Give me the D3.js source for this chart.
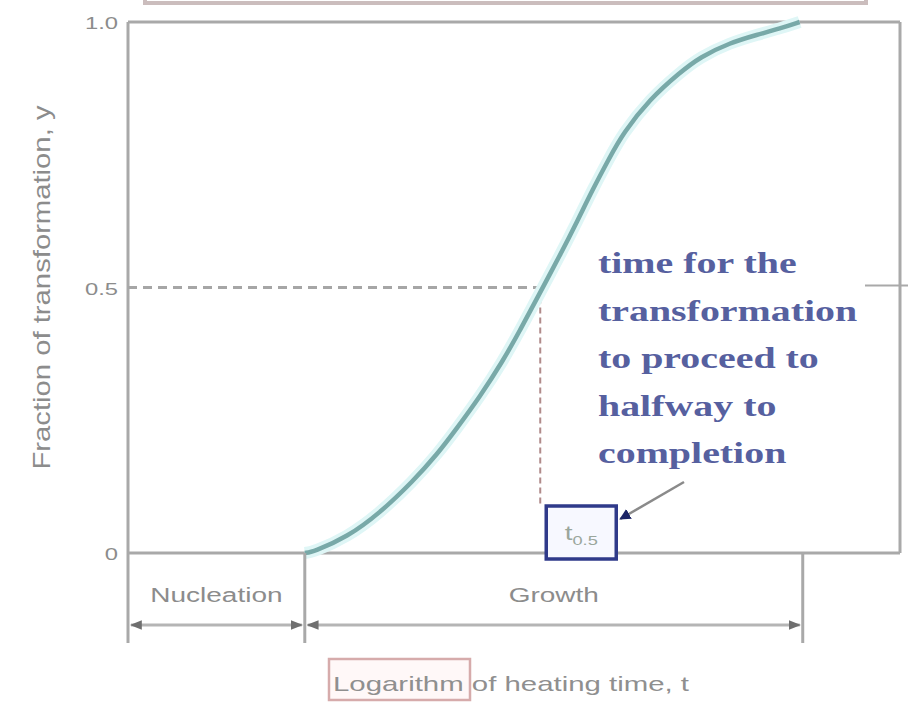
<!DOCTYPE html>
<html>
<head>
<meta charset="utf-8">
<script src="https://cdn.jsdelivr.net/npm/d3@7"></script>
<style>
  body { margin: 0; background: #ffffff; }
  svg { display: block; }
</style>
</head>
<body>
<div id="chart"></div>
<script>
/* Curve: logarithm of time (0-100 across the frame) and fraction transformed */
var logTime  = [22.9, 24.0, 28.4, 32.6, 36.9, 40.0, 42.6, 45.6, 48.5, 50.8, 53.0, 56.0, 58.2, 60.2, 62.4, 64.1, 67.6, 71.5, 74.1, 78.0, 81.5, 84.5, 87.0];
var fraction = [0, 0.002, 0.03, 0.075, 0.135, 0.185, 0.235, 0.295, 0.36, 0.42, 0.48, 0.562, 0.625, 0.685, 0.745, 0.79, 0.855, 0.905, 0.934, 0.961, 0.976, 0.988, 1.0];

/* Y ticks */
var yTicks      = [0, 0.5, 1.0];
var yTickLabels = ["0", "0.5", "1.0"];

/* Stages along the time axis */
var stageBounds = [0, 22.9, 87.4];
var stageNames  = ["Nucleation", "Growth"];

/* Half-way point */
var halfFraction = 0.5;
var halfTime     = 53.4;

var annotationLines = ["time for the", "transformation", "to proceed to", "halfway to", "completion"];

var width = 912, svgheight = 707;
var SX = 1.4;   /* the picture is stretched sideways */

function chart (selector)
{
    var svg = d3.select(selector)
        .append("svg")
        .attr("width", width)
        .attr("height", svgheight);

    svg.append("rect").attr("width", width).attr("height", svgheight).attr("fill", "#ffffff");

    var x = d3.scaleLinear().domain([0, 100]).range([128, 900]);
    var y = d3.scaleLinear().domain([0, 1]).range([553, 22]);

    /* helper for sideways stretched text */
    var label = function (g, px, py, txt, size, anchor, fill, family, weight) {
        return g.append("text")
            .attr("transform", "translate(" + px + "," + py + ") scale(" + SX + ",1)")
            .attr("text-anchor", anchor)
            .attr("font-family", family || "Liberation Sans, Arial, sans-serif")
            .attr("font-weight", weight || "normal")
            .attr("font-size", size)
            .attr("fill", fill)
            .text(txt);
    };

    var defs = svg.append("defs");
    defs.append("marker")
        .attr("id", "tick")
        .attr("viewBox", "0 0 10 10")
        .attr("refX", 9).attr("refY", 5)
        .attr("markerWidth", 4).attr("markerHeight", 4)
        .attr("orient", "auto-start-reverse")
        .append("path").attr("d", "M0,1 L10,5 L0,9 Z").attr("fill", "#6f6f6f");
    defs.append("marker")
        .attr("id", "navyHead")
        .attr("viewBox", "0 0 10 10")
        .attr("refX", 9).attr("refY", 5)
        .attr("markerWidth", 4.5).attr("markerHeight", 4.5)
        .attr("orient", "auto")
        .append("path").attr("d", "M0,0 L10,5 L0,10 Z").attr("fill", "#1c2466");

    /* faint box cut off at the top */
    svg.append("rect")
        .attr("x", 145).attr("y", -40).attr("width", 721).attr("height", 43)
        .attr("fill", "none").attr("stroke", "#cbbdbd").attr("stroke-width", 4);

    /* Frame */
    var frame = svg.append("g").attr("stroke", "#a9a9a9").attr("stroke-width", 3).attr("fill", "none");
    frame.append("line").attr("x1", x(0)).attr("x2", x(100)).attr("y1", y(1)).attr("y2", y(1));
    frame.append("line").attr("x1", x(100)).attr("x2", x(100)).attr("y1", y(1)).attr("y2", y(0));
    frame.append("line").attr("x1", x(0)).attr("x2", x(0)).attr("y1", y(1)).attr("y2", 643);
    frame.append("line").attr("x1", x(0)).attr("x2", x(100)).attr("y1", y(0)).attr("y2", y(0));
    /* short tick on the right at half */
    frame.append("line").attr("x1", x(100) - 35).attr("x2", x(100) + 8)
        .attr("y1", y(halfFraction) - 2).attr("y2", y(halfFraction) - 2).attr("stroke-width", 2);

    /* Y tick labels */
    yTicks.forEach(function (t, i) {
        label(svg, 118, y(t) + 7, yTickLabels[i], 17, "end", "#8c8c8c");
    });

    /* Y axis title */
    svg.append("text")
        .attr("transform", "translate(50," + y(0.5) + ") rotate(-90)")
        .attr("text-anchor", "middle")
        .attr("font-family", "Liberation Sans, Arial, sans-serif")
        .attr("font-size", 24)
        .attr("fill", "#8c8c8c")
        .attr("textLength", 364)
        .attr("lengthAdjust", "spacingAndGlyphs")
        .text("Fraction of transformation, y");

    /* Dashed guides to the half-way point */
    svg.append("line")
        .attr("x1", x(0)).attr("x2", x(halfTime) - 3)
        .attr("y1", y(halfFraction)).attr("y2", y(halfFraction))
        .attr("stroke", "#a6a6a6").attr("stroke-width", 3).attr("stroke-dasharray", "9,6");
    svg.append("line")
        .attr("x1", x(halfTime)).attr("x2", x(halfTime))
        .attr("y1", y(halfFraction)).attr("y2", 506)
        .attr("stroke", "#b08a8a").attr("stroke-width", 2).attr("stroke-dasharray", "6,4");

    /* The transformation curve */
    var pts = logTime.map(function (t, i) { return [t, fraction[i]]; });
    var line = d3.line()
        .x(function (d) { return x(d[0]); })
        .y(function (d) { return y(d[1]); })
        .curve(d3.curveBasis);
    svg.append("path").datum(pts)
        .attr("d", line).attr("fill", "none")
        .attr("stroke", "#dff6f6").attr("stroke-width", 12);
    svg.append("path").datum(pts)
        .attr("d", line).attr("fill", "none")
        .attr("stroke", "#78a9a8").attr("stroke-width", 4.5);

    /* Stage brackets under the axis */
    var stages = svg.append("g");
    stageBounds.slice(1).forEach(function (b) {
        stages.append("line")
            .attr("x1", x(b)).attr("x2", x(b)).attr("y1", y(0)).attr("y2", 643)
            .attr("stroke", "#a9a9a9").attr("stroke-width", 3);
    });
    stageNames.forEach(function (name, i) {
        var a = x(stageBounds[i]), b = x(stageBounds[i + 1]);
        stages.append("line")
            .attr("x1", a + 3).attr("x2", b - 3).attr("y1", 625).attr("y2", 625)
            .attr("stroke", "#b5b5b5").attr("stroke-width", 3)
            .attr("marker-start", "url(#tick)").attr("marker-end", "url(#tick)");
        label(stages, (a + b) / 2, 602, name, 20, "middle", "#8c8c8c");
    });

    /* X axis title with the marked word */
    svg.append("rect")
        .attr("x", 329).attr("y", 659).attr("width", 141).attr("height", 41)
        .attr("fill", "#fff8f8").attr("stroke", "#d6abab").attr("stroke-width", 2.5);
    label(svg, 333, 691, "Logarithm of heating time, t", 21, "start", "#8f8f8f");

    /* Annotation */
    var note = svg.append("g");
    annotationLines.forEach(function (s, i) {
        label(note, 598, 273 + i * 47.5, s, 28.5, "start", "#56609f", "Liberation Serif, Times New Roman, serif", "bold");
    });

    /* t0.5 box */
    var bx = x(halfTime) + 6;
    svg.append("rect")
        .attr("x", bx).attr("y", 506).attr("width", 70).attr("height", 53)
        .attr("fill", "#f7f8ff").attr("stroke", "#2f3a8a").attr("stroke-width", 3.5);
    var tt = label(svg, bx + 35, 540, "t", 20, "middle", "#9aa69c");
    tt.append("tspan").attr("font-size", 13).attr("dy", 5).text("0.5");

    /* pointer from annotation to the box */
    svg.append("line")
        .attr("x1", 684).attr("y1", 482).attr("x2", bx + 74).attr("y2", 519)
        .attr("stroke", "#8a8a8a").attr("stroke-width", 2.5)
        .attr("marker-end", "url(#navyHead)");
}

chart("#chart");
</script>
</body>
</html>
